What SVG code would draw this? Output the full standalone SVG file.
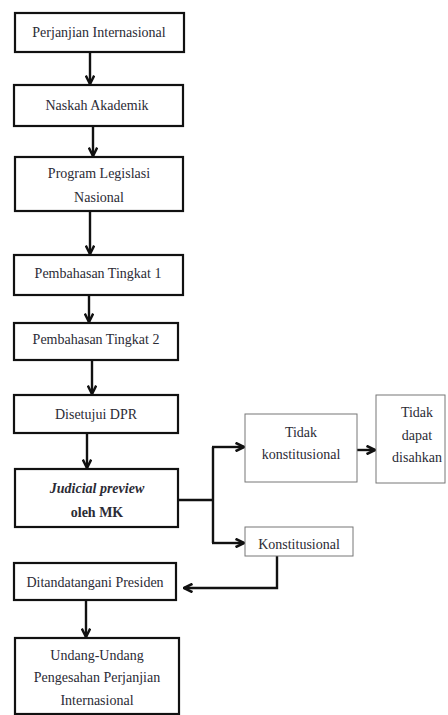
<svg xmlns="http://www.w3.org/2000/svg" width="448" height="715" viewBox="0 0 448 715" font-family="'Liberation Serif', 'DejaVu Serif', serif">
<style>
.b{fill:#fff;stroke:#111;stroke-width:2.2}
.t{fill:#fff;stroke:#777;stroke-width:1}
text{font-family:'Liberation Serif','DejaVu Serif',serif;font-size:14px;fill:#2b2b35;text-anchor:middle}
.c{fill:none;stroke:#111;stroke-width:2.4;marker-end:url(#a)}
.l{fill:none;stroke:#111;stroke-width:2.4}
</style>
<defs>
<marker id="a" viewBox="0 0 10 10" refX="9" refY="5" markerWidth="4.4" markerHeight="4.4" orient="auto" markerUnits="strokeWidth">
<path d="M1,1 L9,5 L1,9" fill="none" stroke="#111" stroke-width="2.4"/>
</marker>
</defs>
<rect width="448" height="715" fill="#fff"/>
<g id="connectors">
<path class="c" d="M90,52 V84"/>
<path class="c" d="M93,126 V156"/>
<path class="c" d="M90,211 V254"/>
<path class="c" d="M89,295 V322"/>
<path class="c" d="M92,360 V394"/>
<path class="c" d="M87,433 V468"/>
<path class="l" d="M178,500 H213 M213,447 V543"/>
<path class="c" d="M212,447 H244"/>
<path class="c" d="M212,543 H244"/>
<path class="c" d="M357,450 H375"/>
<path class="c" d="M277,556 V588 H184"/>
<path class="c" d="M86,600 V637"/>
</g>
<g id="n1"><rect class="b" x="15" y="13" width="169" height="39"/><text x="99" y="37">Perjanjian Internasional</text></g>
<g id="n2"><rect class="b" x="14" y="85" width="169" height="41"/><text x="97" y="110">Naskah Akademik</text></g>
<g id="n3"><rect class="b" x="15" y="157" width="168" height="54"/><text x="99" y="178">Program Legislasi</text><text x="99" y="202">Nasional</text></g>
<g id="n4"><rect class="b" x="14" y="255" width="169" height="40"/><text x="98" y="278">Pembahasan Tingkat 1</text></g>
<g id="n5"><rect class="b" x="14" y="323" width="164" height="37"/><text x="96" y="344">Pembahasan Tingkat 2</text></g>
<g id="n6"><rect class="b" x="14" y="395" width="164" height="38"/><text x="96" y="419">Disetujui DPR</text></g>
<g id="n7"><rect class="b" x="15" y="469" width="163" height="58"/><text x="97" y="493" font-weight="bold" font-style="italic">Judicial preview</text><text x="97" y="517" font-weight="bold">oleh MK</text></g>
<g id="n8"><rect class="t" x="245" y="414" width="112" height="68"/><text x="301" y="437">Tidak</text><text x="301" y="459">konstitusional</text></g>
<g id="n9"><rect class="t" x="376" y="395" width="69" height="88"/><text x="417" y="417">Tidak</text><text x="417" y="440">dapat</text><text x="417" y="462">disahkan</text></g>
<g id="n10"><rect class="t" x="245" y="527" width="108" height="29"/><text x="299" y="549">Konstitusional</text></g>
<g id="n11"><rect class="b" x="14" y="563" width="162" height="37"/><text x="95" y="587">Ditandatangani Presiden</text></g>
<g id="n12"><rect class="b" x="15" y="638" width="164" height="76"/><text x="97" y="660">Undang-Undang</text><text x="97" y="682">Pengesahan Perjanjian</text><text x="97" y="705">Internasional</text></g>
</svg>
